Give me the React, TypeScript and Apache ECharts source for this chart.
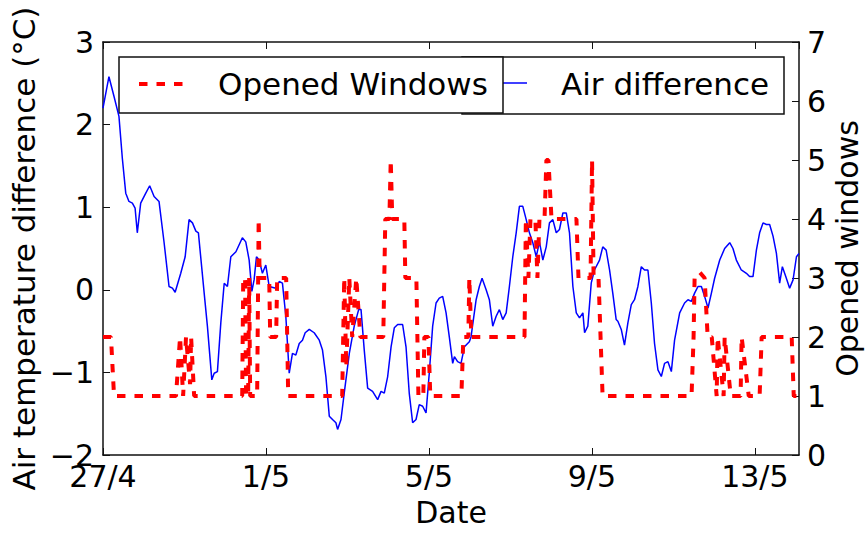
import React, { useEffect, useRef } from "react";
import * as echarts from "echarts";

// Hours since 27/4 00:00 and indoor/outdoor air temperature difference (°C)
const airDifference: [number, number][] = [
  [0, 2.2], [3.5, 2.58], [6.5, 2.34], [9.4, 2.1], [11.4, 1.59], [13.4, 1.17], [15.3, 1.07], [17.3, 1.05],
  [18.9, 0.99], [20.2, 0.69], [22.2, 1.05], [25.2, 1.17], [27.5, 1.26], [30.1, 1.13], [33, 1.07], [36, 0.57],
  [38.9, 0.04], [40.9, 0.02], [42.5, -0.03], [45.8, 0.2], [48.4, 0.4], [50.7, 0.85], [52.7, 0.81], [54.7, 0.71],
  [56.2, 0.69], [59.6, -0.04], [61.5, -0.44], [64.1, -1.09], [65.5, -1.01], [67.4, -0.99], [69.4, -0.4], [71.4, 0.08],
  [73.3, 0.04], [75.3, 0.4], [78.3, 0.46], [82.1, 0.63], [84.1, 0.58], [86.1, 0.36], [87.7, -0.02], [89, 0.12],
  [90.4, 0.4], [92, 0.36], [93.9, 0.2], [95.9, 0.3], [97.9, 0.04], [101.8, 0.02], [103.8, 0.1], [105.7, 0.08],
  [107.7, -0.32], [109.7, -1.01], [111.6, -0.77], [113.6, -0.79], [115.6, -0.65], [117.5, -0.61], [119.1, -0.52],
  [121.5, -0.48], [124.4, -0.52], [127.4, -0.61], [129.3, -0.73], [131.3, -1.05], [133.3, -1.53], [135.2, -1.57],
  [137.2, -1.61], [138.2, -1.69], [140.2, -1.57], [142.1, -1.25], [145.1, -0.77], [148, -0.44], [150.6, -0.24],
  [152, -0.24], [153.9, -0.73], [155.9, -1.19], [158.8, -1.23], [161.8, -1.33], [163.8, -1.23], [165.7, -1.25],
  [167.7, -1.05], [169.7, -0.69], [171.6, -0.46], [173.6, -0.42], [176.5, -0.42], [178.5, -0.69], [180.4, -1.25],
  [182.4, -1.61], [184.4, -1.57], [186.3, -1.39], [188.3, -1.41], [190.3, -1.49], [192.2, -1.01], [194.2, -0.44],
  [196.2, -0.16], [198.1, -0.1], [200.1, -0.08], [202.1, -0.28], [204, -0.57], [206, -0.89], [207, -0.81],
  [208.9, -0.87], [210.9, -0.89], [212.9, -0.69], [215.8, -0.63], [216.8, -0.57], [219.8, -0.12], [221.7, 0.04],
  [223.3, 0.14], [225.7, 0], [227.6, -0.12], [229.6, -0.44], [231.6, -0.32], [233.5, -0.24], [235.5, -0.36],
  [237.5, -0.28], [239.4, 0.04], [241.4, 0.4], [243.4, 0.69], [245.3, 1.01], [247.3, 1.01], [249.3, 0.85],
  [251.2, 0.69], [253.2, 0.57], [255.2, 0.4], [257.1, 0.58], [259.1, 0.36], [261.1, 0.52], [263, 0.81],
  [265, 0.85], [267, 0.69], [268.9, 0.73], [270.9, 0.93], [272.9, 0.93], [274.8, 0.69], [276.8, 0.04],
  [278.8, -0.28], [280.7, -0.34], [282.7, -0.28], [283.7, -0.52], [285.6, -0.44], [287.6, 0.08], [289.5, 0.24],
  [292.5, 0.36], [294.4, 0.52], [296.4, 0.48], [298.4, 0.24], [300.3, -0.04], [302.3, -0.36], [303.3, -0.38],
  [305.3, -0.48], [307.2, -0.67], [309.2, -0.4], [311.2, -0.18], [313.1, -0.12], [315.1, 0.04], [317.1, 0.28],
  [319, 0.24], [321, 0.24], [323, -0.16], [324.9, -0.65], [326.9, -0.97], [328.9, -1.05], [330.8, -0.89],
  [332.8, -0.87], [334.8, -0.99], [336.7, -0.61], [339.7, -0.28], [342.6, -0.16], [344.6, -0.12], [346.6, -0.14],
  [348.5, -0.04], [350.5, 0.04], [352.5, 0.04], [354.4, -0.08], [356.4, -0.22], [358.4, -0.04], [360.3, 0.14],
  [363.3, 0.36], [366.2, 0.5], [369.2, 0.57], [371.1, 0.5], [373.1, 0.36], [376, 0.24], [379, 0.2],
  [380.9, 0.16], [382.9, 0.16], [384.9, 0.48], [386.8, 0.69], [388.8, 0.81], [390.8, 0.79], [392.7, 0.79],
  [394.7, 0.65], [396.7, 0.44], [398.6, 0.08], [400.2, 0.28], [402.2, 0.16], [404.5, 0.02], [406.5, 0.12],
  [408.5, 0.4], [410, 0.44],
];

// Hours since 27/4 00:00 and number of opened windows
const openedWindows: [number, number][] = [
  [0, 2], [4.7, 2], [6.5, 1], [43, 1], [45.4, 2], [47.2, 1], [48.9, 2], [51.3, 1.2], [51.9, 2], [53.7, 1],
  [82, 1], [82.6, 3], [83.7, 3], [84.3, 1], [85.5, 1], [86.1, 3], [86.7, 1], [90.8, 1], [91.7, 4], [92.3, 3],
  [97.9, 3], [98.5, 2], [102, 2], [102.6, 3], [107.9, 3], [109.1, 1], [140.9, 1], [142.1, 3], [143.3, 1.5],
  [145.1, 3], [146.8, 2], [149.2, 3], [151.6, 2], [165.1, 2], [166.3, 4], [168.7, 4], [169.5, 5], [170.4, 4],
  [177.5, 4], [178.1, 3], [184.6, 3], [185.8, 1], [188.7, 1], [189.3, 2], [191.7, 2], [192.8, 1], [211.1, 1],
  [212.3, 2], [215.2, 2], [215.8, 3], [217, 2], [248.3, 2], [249.1, 4], [250.6, 3], [251.8, 4], [254.7, 4],
  [255.9, 3], [257.1, 4], [260.1, 4], [261.2, 5], [262.4, 5], [264.2, 4], [278.9, 4], [280.1, 3], [287.2, 3],
  [288.1, 5], [289, 3], [291.9, 3], [293.1, 2], [294.3, 1], [346.7, 1], [347.9, 2], [348.5, 3], [351.4, 3.1],
  [354.4, 3], [356.2, 2], [358.6, 2], [361.5, 1], [362.1, 2], [365.6, 1], [366.2, 2], [369.8, 1], [375.6, 1],
  [376.2, 2], [380.4, 1], [386.8, 1], [388, 2], [405.7, 2], [406.9, 1], [410, 1],
];

// Date ticks, one every four days (96 h)
const dateTicks = ["27/4", "1/5", "5/5", "9/5", "13/5"];
const hoursPerTick = 96;
const lastHour = 410;

const FONT = "DejaVu Sans";

const minus = (v: number) => (v < 0 ? "\u2212" + Math.abs(v) : String(v));

export default function App() {
  const ref = useRef<HTMLDivElement>(null);

  useEffect(() => {
    if (!ref.current) return;
    const chart = echarts.init(ref.current, null, { renderer: "svg" });

    const frameLine = { onZero: false, lineStyle: { color: "#111", width: 1.5 } };
    const tick = { inside: true, length: 7, lineStyle: { color: "#111", width: 1 } };

    chart.setOption({
      animation: false,
      textStyle: { fontFamily: FONT },
      grid: { left: 103, right: 66, top: 42, bottom: 79, containLabel: false, outerBoundsMode: "none" },
      xAxis: [
        {
          type: "value",
          min: 0,
          max: lastHour,
          interval: hoursPerTick,
          position: "bottom",
          name: "Date",
          nameLocation: "middle",
          nameGap: 42,
          nameMoveOverlap: false,
          nameTextStyle: { fontSize: 30, color: "#000", fontFamily: FONT },
          axisLine: frameLine,
          axisTick: tick,
          axisLabel: {
            fontSize: 30,
            color: "#000",
            margin: 6,
            showMaxLabel: false,
            fontFamily: FONT,
            formatter: (v: number) => {
              const i = v / hoursPerTick;
              return Number.isInteger(i) && dateTicks[i] ? dateTicks[i] : "";
            },
          },
          splitLine: { show: false },
        },
        {
          type: "value",
          min: 0,
          max: lastHour,
          interval: hoursPerTick,
          position: "top",
          axisLine: frameLine,
          axisTick: tick,
          axisLabel: { show: false },
          splitLine: { show: false },
        },
      ],
      yAxis: [
        {
          type: "value",
          min: -2,
          max: 3,
          interval: 1,
          position: "left",
          name: "Air temperature difference (°C)",
          nameLocation: "middle",
          nameRotate: 90,
          nameGap: 64,
          nameMoveOverlap: false,
          nameTextStyle: { fontSize: 31, lineHeight: 31, color: "#000", fontFamily: FONT },
          axisLine: frameLine,
          axisTick: tick,
          axisLabel: { fontSize: 30, color: "#000", margin: 9, formatter: minus, fontFamily: FONT },
          splitLine: { show: false },
        },
        {
          type: "value",
          min: 0,
          max: 7,
          interval: 1,
          position: "right",
          name: "Opened windows",
          nameLocation: "middle",
          nameRotate: 90,
          nameGap: 33,
          nameMoveOverlap: false,
          nameTextStyle: { fontSize: 30, lineHeight: 30, color: "#000", fontFamily: FONT },
          axisLine: frameLine,
          axisTick: tick,
          axisLabel: { fontSize: 30, color: "#000", margin: 8, fontFamily: FONT },
          splitLine: { show: false },
        },
      ],
      series: [
        {
          name: "Air difference",
          type: "line",
          xAxisIndex: 0,
          yAxisIndex: 0,
          data: airDifference,
          showSymbol: false,
          lineStyle: { color: "#0000ff", width: 1.5 },
          z: 2,
        },
        {
          name: "Opened Windows",
          type: "line",
          xAxisIndex: 0,
          yAxisIndex: 1,
          data: openedWindows,
          showSymbol: false,
          lineStyle: { color: "#ff0000", width: 4, type: [8.5, 9], cap: "butt" },
          z: 3,
        },
      ],
      graphic: [
        {
          type: "group",
          z: 100,
          children: [
            {
              type: "rect",
              shape: { x: 462, y: 57, width: 322, height: 57 },
              style: { fill: "#fff", stroke: "#111", lineWidth: 1.5 },
            },
            {
              type: "line",
              shape: { x1: 490, y1: 83, x2: 527, y2: 83 },
              style: { stroke: "#0000ff", lineWidth: 1.5 },
            },
            {
              type: "text",
              x: 561,
              y: 84,
              style: {
                text: "Air difference",
                font: `31px "${FONT}"`,
                fill: "#000",
                textVerticalAlign: "middle",
                verticalAlign: "middle",
              },
            },
            {
              type: "rect",
              shape: { x: 119, y: 57, width: 384, height: 56 },
              style: { fill: "#fff", stroke: "#111", lineWidth: 1.5 },
            },
            {
              type: "line",
              shape: { x1: 139, y1: 84, x2: 183, y2: 84 },
              style: { stroke: "#ff0000", lineWidth: 4, lineDash: [8.5, 9] },
            },
            {
              type: "text",
              x: 218,
              y: 84,
              style: {
                text: "Opened Windows",
                font: `31px "${FONT}"`,
                fill: "#000",
                textVerticalAlign: "middle",
                verticalAlign: "middle",
              },
            },
          ],
        },
      ],
    });

    return () => chart.dispose();
  }, []);

  return (
    <div
      ref={ref}
      style={{ position: "fixed", left: 0, top: 0, width: 865, height: 534, background: "#fff" }}
    />
  );
}
